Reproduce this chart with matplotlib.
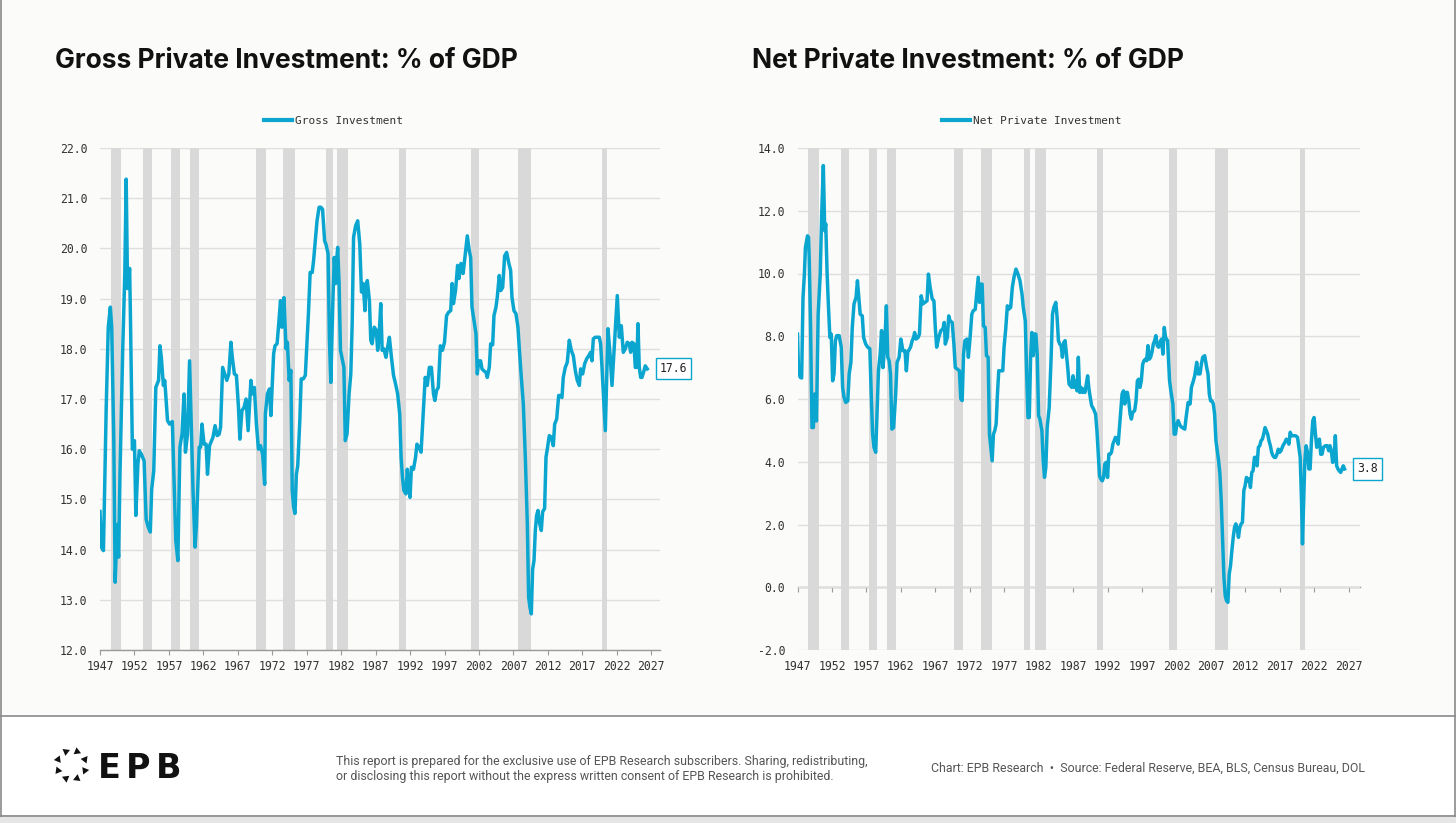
import matplotlib
matplotlib.use("Agg")
import matplotlib.pyplot as plt
from matplotlib.ticker import FixedLocator, FormatStrFormatter
from matplotlib.patches import Rectangle, RegularPolygon
import numpy as np

plt.rcParams['axes.unicode_minus'] = False

# ---------------- data ----------------
gross_t = [1947.0, 1947.2, 1947.5, 1947.9, 1948.2, 1948.5, 1948.7, 1949.0, 1949.2, 1949.5, 1949.7, 1949.9,
           1950.3, 1950.6, 1950.8, 1951.0, 1951.3, 1951.4, 1951.7, 1952.0, 1952.2, 1952.5, 1952.7, 1953.0,
           1953.4, 1953.7, 1954.0, 1954.3, 1954.5, 1954.8, 1955.1, 1955.5, 1955.7, 1955.9, 1956.2, 1956.4,
           1956.8, 1957.1, 1957.5, 1957.8, 1958.0, 1958.3, 1958.6, 1958.9, 1959.2, 1959.4, 1959.7, 1960.0,
           1960.3, 1960.5, 1960.8, 1961.0, 1961.4, 1961.6, 1961.8, 1962.1, 1962.4, 1962.6, 1962.9, 1963.4,
           1963.7, 1964.0, 1964.3, 1964.5, 1964.8, 1965.1, 1965.4, 1965.7, 1966.0, 1966.2, 1966.5, 1966.8,
           1967.1, 1967.3, 1967.6, 1967.9, 1968.2, 1968.5, 1968.9, 1969.1, 1969.4, 1969.7, 1970.0, 1970.3,
           1970.6, 1970.9, 1971.0, 1971.3, 1971.6, 1971.8, 1972.2, 1972.4, 1972.7, 1972.9, 1973.2, 1973.4,
           1973.7, 1974.0, 1974.2, 1974.45, 1974.7, 1974.9, 1975.1, 1975.3, 1975.5, 1975.7, 1976.0, 1976.2,
           1976.5, 1976.8, 1977.0, 1977.25, 1977.5, 1977.8, 1978.0, 1978.3, 1978.5, 1978.8, 1979.05, 1979.3,
           1979.6, 1979.8, 1980.1, 1980.3, 1980.5, 1980.8, 1981.0, 1981.2, 1981.35, 1981.5, 1981.7, 1981.9,
           1982.1, 1982.4, 1982.6, 1982.85, 1983.15, 1983.4, 1983.6, 1983.8, 1984.1, 1984.4, 1984.7, 1984.95,
           1985.2, 1985.45, 1985.6, 1985.8, 1986.1, 1986.3, 1986.5, 1986.8, 1987.1, 1987.3, 1987.5, 1987.75,
           1987.95, 1988.2, 1988.5, 1988.7, 1989.0, 1989.3, 1989.6, 1989.9, 1990.2, 1990.5, 1990.7, 1990.9,
           1991.1, 1991.4, 1991.6, 1991.8, 1992.0, 1992.2, 1992.5, 1992.8, 1993.0, 1993.3, 1993.6, 1993.9,
           1994.2, 1994.5, 1994.8, 1995.1, 1995.4, 1995.6, 1995.85, 1996.1, 1996.4, 1996.7, 1997.0, 1997.3,
           1997.6, 1997.9, 1998.1, 1998.3, 1998.6, 1998.9, 1999.1, 1999.4, 1999.7, 1999.88, 2000.31, 2000.6,
           2000.8, 2000.99, 2001.28, 2001.57, 2001.76, 2001.96, 2002.24, 2002.44, 2002.73, 2003.02, 2003.21, 2003.5,
           2003.7, 2003.99, 2004.18, 2004.47, 2004.66, 2004.95, 2005.15, 2005.44, 2005.73, 2006.02, 2006.31, 2006.6,
           2006.79, 2007.08, 2007.37, 2007.66, 2007.86, 2008.15, 2008.44, 2008.73, 2009.02, 2009.21, 2009.4, 2009.6,
           2009.79, 2009.99, 2010.18, 2010.37, 2010.57, 2010.76, 2011.05, 2011.24, 2011.53, 2011.73, 2011.92, 2012.21,
           2012.5, 2012.79, 2012.99, 2013.28, 2013.57, 2013.76, 2014.05, 2014.24, 2014.53, 2014.82, 2015.11, 2015.4,
           2015.7, 2015.99, 2016.27, 2016.57, 2016.76, 2017.05, 2017.34, 2017.63, 2017.92, 2018.21, 2018.4, 2018.6,
           2018.89, 2019.18, 2019.47, 2019.66, 2019.86, 2020.34, 2020.73, 2021.02, 2021.31, 2021.89, 2022.08, 2022.37,
           2022.66, 2022.95, 2023.24, 2023.53, 2023.82, 2024.02, 2024.21, 2024.5, 2024.69, 2024.89, 2025.08, 2025.27,
           2025.47, 2025.66, 2025.95, 2026.14, 2026.43]
gross_v = [14.76, 14.05, 13.98, 16.83, 18.43, 18.83, 18.43, 16.2, 13.35, 14.5, 13.85, 15.5,
           18.0, 19.5, 21.38, 19.2, 19.6, 18.8, 16.0, 16.17, 14.68, 15.7, 15.97, 15.9,
           15.77, 14.6, 14.45, 14.35, 15.2, 15.57, 17.23, 17.37, 18.06, 17.83, 17.27, 17.37,
           16.57, 16.5, 16.55, 15.1, 14.18, 13.78, 16.04, 16.3, 17.1, 15.94, 16.3, 17.76,
           16.17, 15.18, 14.05, 14.5, 16.04, 16.04, 16.5, 16.1, 16.1, 15.5, 16.07, 16.24,
           16.47, 16.27, 16.3, 16.44, 17.63, 17.5, 17.37, 17.5, 18.13, 17.83, 17.5, 17.47,
           16.83, 16.2, 16.77, 16.83, 17.0, 16.37, 17.37, 17.1, 17.23, 16.5, 16.0, 16.07,
           15.9, 15.3, 16.7, 17.1, 17.2, 16.67, 17.9, 18.06, 18.1, 18.43, 18.96, 18.43,
           19.02, 18.0, 18.13, 17.37, 17.57, 15.18, 14.85, 14.72, 15.5, 15.67, 16.57, 17.4,
           17.4, 17.47, 18.03, 18.7, 19.52, 19.52, 19.76, 20.22, 20.55, 20.82, 20.82, 20.78,
           20.15, 20.08, 19.9, 18.17, 17.33, 18.96, 19.82, 19.3, 19.76, 20.02, 19.3, 17.97,
           17.83, 17.63, 16.17, 16.3, 17.1, 17.5, 18.5, 20.22, 20.45, 20.55, 20.09, 19.13,
           19.3, 18.76, 19.22, 19.36, 18.96, 18.17, 18.1, 18.43, 18.37, 17.97, 18.23, 18.9,
           17.97, 18.0, 17.83, 18.0, 18.23, 17.83, 17.47, 17.3, 17.1, 16.7, 15.84, 15.44,
           15.18, 15.11, 15.6, 15.24, 15.04, 15.64, 15.6, 15.84, 16.1, 16.04, 15.94, 16.7,
           17.43, 17.27, 17.63, 17.63, 17.1, 16.97, 17.17, 17.23, 18.06, 17.97, 18.13, 18.66,
           18.73, 18.76, 19.3, 18.9, 19.16, 19.66, 19.4, 19.7, 19.5, 19.72, 20.25, 19.95,
           19.82, 18.83, 18.56, 18.3, 17.5, 17.76, 17.76, 17.6, 17.56, 17.53, 17.43, 17.63,
           18.1, 18.08, 18.66, 18.83, 19.03, 19.46, 19.16, 19.22, 19.85, 19.92, 19.72, 19.56,
           19.03, 18.76, 18.7, 18.43, 18.0, 17.43, 16.9, 15.84, 14.51, 13.05, 12.85, 12.72,
           13.61, 13.78, 14.38, 14.68, 14.78, 14.55, 14.38, 14.75, 14.82, 15.84, 16.0, 16.27,
           16.24, 16.07, 16.5, 16.6, 17.07, 17.07, 17.03, 17.43, 17.63, 17.73, 18.17, 17.97,
           17.86, 17.56, 17.37, 17.27, 17.6, 17.5, 17.7, 17.8, 17.86, 17.93, 17.76, 18.2,
           18.23, 18.23, 18.23, 18.1, 17.63, 16.37, 18.4, 17.9, 17.27, 18.6, 19.06, 18.23,
           18.46, 17.93, 18.0, 18.13, 18.1, 17.93, 18.13, 18.1, 17.63, 17.63, 18.5, 17.63,
           17.43, 17.43, 17.56, 17.66, 17.6]

net_t = [1947.0, 1947.15, 1947.4, 1947.6, 1947.8, 1948.0, 1948.15, 1948.45, 1948.6, 1948.7, 1948.9, 1949.1,
         1949.3, 1949.5, 1949.75, 1950.0, 1950.3, 1950.5, 1950.75, 1950.95, 1951.1, 1951.3, 1951.5, 1951.7,
         1951.9, 1952.1, 1952.3, 1952.5, 1952.7, 1953.05, 1953.35, 1953.55, 1953.75, 1954.0, 1954.3, 1954.5,
         1954.75, 1954.95, 1955.2, 1955.5, 1955.7, 1955.9, 1956.1, 1956.4, 1956.6, 1956.9, 1957.2, 1957.5,
         1957.7, 1957.9, 1958.1, 1958.35, 1958.55, 1958.75, 1959.0, 1959.2, 1959.4, 1959.65, 1959.9, 1960.1,
         1960.3, 1960.5, 1960.7, 1960.95, 1961.25, 1961.45, 1961.75, 1962.0, 1962.3, 1962.6, 1962.8, 1963.0,
         1963.4, 1963.65, 1963.85, 1964.0, 1964.2, 1964.5, 1964.7, 1964.95, 1965.2, 1965.5, 1965.8, 1966.0,
         1966.25, 1966.55, 1966.8, 1967.0, 1967.2, 1967.5, 1967.8, 1968.1, 1968.3, 1968.45, 1968.75, 1968.95,
         1969.15, 1969.45, 1969.7, 1969.9, 1970.2, 1970.5, 1970.7, 1970.9, 1971.1, 1971.3, 1971.6, 1971.8,
         1972.05, 1972.3, 1972.5, 1972.8, 1973.0, 1973.23, 1973.42, 1973.61, 1973.8, 1973.99, 1974.24, 1974.43,
         1974.67, 1974.86, 1975.06, 1975.25, 1975.44, 1975.63, 1975.83, 1976.02, 1976.21, 1976.5, 1976.79, 1976.98,
         1977.22, 1977.46, 1977.65, 1977.94, 1978.18, 1978.42, 1978.71, 1979.0, 1979.29, 1979.58, 1979.77, 1980.06,
         1980.25, 1980.45, 1980.64, 1980.83, 1981.02, 1981.22, 1981.41, 1981.6, 1981.79, 1981.99, 1982.18, 1982.47,
         1982.66, 1982.85, 1983.04, 1983.24, 1983.53, 1983.81, 1984.01, 1984.2, 1984.49, 1984.68, 1984.87, 1985.07,
         1985.26, 1985.45, 1985.64, 1985.84, 1986.03, 1986.22, 1986.41, 1986.61, 1986.8, 1986.99, 1987.18, 1987.38,
         1987.57, 1987.76, 1987.95, 1988.15, 1988.34, 1988.53, 1988.72, 1988.92, 1989.11, 1989.3, 1989.49, 1989.69,
         1989.97, 1990.26, 1990.46, 1990.65, 1990.84, 1991.03, 1991.23, 1991.42, 1991.61, 1991.8, 1992.0, 1992.19,
         1992.38, 1992.57, 1992.77, 1992.96, 1993.15, 1993.34, 1993.54, 1993.73, 1993.92, 1994.11, 1994.31, 1994.5,
         1994.69, 1994.88, 1995.08, 1995.27, 1995.46, 1995.65, 1995.94, 1996.13, 1996.33, 1996.52, 1996.71, 1996.9,
         1997.1, 1997.29, 1997.48, 1997.67, 1997.87, 1998.06, 1998.25, 1998.44, 1998.64, 1998.83, 1999.02, 1999.21,
         1999.41, 1999.6, 1999.84, 2000.03, 2000.23, 2000.42, 2000.71, 2001.0, 2001.19, 2001.48, 2001.67, 2001.86,
         2002.05, 2002.25, 2002.54, 2002.82, 2003.21, 2003.4, 2003.69, 2003.98, 2004.17, 2004.46, 2004.65, 2004.94,
         2005.13, 2005.42, 2005.62, 2005.81, 2006.1, 2006.39, 2006.58, 2006.77, 2006.96, 2007.16, 2007.35, 2007.54,
         2007.73, 2007.93, 2008.12, 2008.31, 2008.5, 2008.7, 2008.89, 2009.08, 2009.27, 2009.47, 2009.66, 2009.85,
         2010.04, 2010.24, 2010.43, 2010.62, 2010.81, 2011.0, 2011.2, 2011.39, 2011.58, 2011.78, 2011.97, 2012.16,
         2012.35, 2012.55, 2012.74, 2012.93, 2013.12, 2013.32, 2013.51, 2013.7, 2013.89, 2014.09, 2014.28, 2014.47,
         2014.66, 2014.86, 2015.05, 2015.24, 2015.43, 2015.63, 2015.82, 2016.01, 2016.2, 2016.4, 2016.59, 2016.78,
         2016.97, 2017.17, 2017.45, 2017.74, 2017.94, 2018.13, 2018.32, 2018.51, 2018.71, 2018.99, 2019.28, 2019.57,
         2019.77, 2019.96, 2020.15, 2020.29, 2020.44, 2020.63, 2020.82, 2021.02, 2021.21, 2021.4, 2021.59, 2021.79,
         2021.98, 2022.17, 2022.36, 2022.56, 2022.75, 2022.94, 2023.13, 2023.33, 2023.61, 2023.9, 2024.1, 2024.29,
         2024.48, 2024.67, 2024.87, 2025.06, 2025.25, 2025.44, 2025.63, 2025.83, 2026.02, 2026.21, 2026.4]
net_v = [8.07, 6.9, 6.69, 6.67, 9.24, 9.98, 10.83, 11.2, 11.15, 10.5, 8.28, 5.09,
         5.09, 6.16, 5.3, 8.7, 9.98, 11.8, 13.44, 11.36, 11.58, 9.98, 8.92, 7.96,
         8.07, 6.58, 6.8, 7.86, 8.02, 8.02, 7.65, 6.37, 6.05, 5.89, 5.94, 6.8,
         7.17, 8.28, 9.03, 9.24, 9.77, 9.24, 8.7, 8.65, 7.96, 7.75, 7.65, 7.6,
         6.16, 4.88, 4.46, 4.3, 5.63, 6.9, 7.43, 8.18, 7.0, 7.65, 8.97, 7.33,
         7.22, 6.8, 5.04, 5.09, 6.16, 7.17, 7.33, 7.91, 7.54, 7.54, 6.9, 7.49,
         7.65, 7.86, 7.96, 8.12, 7.91, 7.96, 8.07, 9.29, 9.03, 9.08, 9.13, 9.98,
         9.56, 9.19, 9.13, 8.28, 7.65, 7.96, 8.18, 8.23, 8.44, 7.75, 7.96, 8.65,
         8.49, 8.44, 7.75, 7.0, 6.95, 6.9, 6.0, 5.95, 7.43, 7.86, 7.91, 7.33,
         7.96, 8.7, 8.81, 8.86, 9.35, 9.88, 9.08, 9.66, 9.66, 8.33, 8.28, 7.38,
         7.33, 4.88, 4.46, 4.03, 4.88, 4.99, 5.2, 6.16, 6.9, 6.9, 6.9, 7.65,
         8.23, 8.97, 8.86, 8.92, 9.56, 9.88, 10.14, 9.98, 9.77, 9.35, 8.92, 8.49,
         6.9, 5.41, 5.41, 7.33, 8.12, 7.38, 8.07, 8.07, 7.43, 5.47, 5.36, 4.99,
         4.03, 3.5, 3.82, 5.09, 5.73, 7.33, 8.7, 8.92, 9.08, 8.6, 7.86, 7.75,
         7.7, 7.33, 7.8, 7.86, 7.43, 7.0, 6.48, 6.42, 6.37, 6.74, 6.37, 6.58,
         6.26, 7.33, 6.21, 6.37, 6.21, 6.32, 6.21, 6.48, 6.74, 6.32, 6.05, 5.79,
         5.68, 5.52, 4.99, 4.24, 3.55, 3.45, 3.39, 3.5, 3.93, 3.98, 3.5, 4.24,
         4.24, 4.3, 4.56, 4.67, 4.78, 4.72, 4.56, 5.09, 5.63, 6.16, 6.26, 5.84,
         6.21, 6.21, 5.94, 5.52, 5.36, 5.57, 5.63, 5.94, 6.58, 6.63, 6.37, 6.58,
         7.11, 7.22, 7.27, 7.22, 7.7, 7.27, 7.33, 7.49, 7.75, 7.86, 8.02, 7.7,
         7.65, 7.8, 7.91, 7.43, 8.28, 7.96, 7.86, 6.58, 6.26, 5.84, 4.88, 4.88,
         5.2, 5.31, 5.15, 5.09, 5.04, 5.41, 5.89, 5.84, 6.37, 6.58, 6.74, 7.17,
         6.8, 6.8, 7.11, 7.33, 7.38, 7.0, 6.8, 6.16, 5.94, 5.94, 5.84, 5.52,
         4.67, 4.35, 4.03, 3.61, 2.76, 1.49, 0.32, -0.27, -0.43, -0.48, 0.42, 0.69,
         1.16, 1.59, 1.91, 2.02, 1.86, 1.59, 1.91, 2.02, 2.07, 3.08, 3.24, 3.5,
         3.39, 3.45, 3.18, 3.66, 3.71, 4.14, 4.14, 3.87, 4.46, 4.51, 4.67, 4.72,
         4.88, 5.09, 4.99, 4.88, 4.67, 4.51, 4.3, 4.19, 4.14, 4.14, 4.24, 4.4,
         4.3, 4.35, 4.51, 4.62, 4.72, 4.67, 4.56, 4.94, 4.83, 4.83, 4.83, 4.78,
         4.46, 4.14, 2.76, 1.38, 2.55, 4.03, 4.51, 4.3, 3.77, 3.77, 4.67, 5.31,
         5.41, 4.88, 4.46, 4.67, 4.72, 4.24, 4.24, 4.46, 4.51, 4.51, 4.35, 4.51,
         4.35, 3.98, 4.03, 4.83, 3.87, 3.77, 3.71, 3.66, 3.77, 3.87, 3.77]

recession_start = [1948.55, 1953.3, 1957.35, 1960.05, 1969.65, 1973.6, 1979.85, 1981.4, 1990.4, 2000.85, 2007.65, 2019.9]
recession_end   = [1950.05, 1954.5, 1958.55, 1961.3, 1971.05, 1975.25, 1980.8, 1983.05, 1991.35, 2002.05, 2009.55, 2020.6]

year_ticks = list(range(1947, 2028, 5))
gross_yticks = [12, 13, 14, 15, 16, 17, 18, 19, 20, 21, 22]
net_yticks = [-2, 0, 2, 4, 6, 8, 10, 12, 14]

titles = ["Gross Private Investment: % of GDP", "Net Private Investment: % of GDP"]
legend_labels = ["Gross Investment", "Net Private Investment"]

# ---------------- styling ----------------
LINE = '#0ba6d0'
BAND = '#d9d9d9'
GRID = '#dedede'
AXIS = '#9a9a9a'
TXT = '#333333'
BG = '#fbfbf9'
MONO = 'DejaVu Sans Mono'

W, H = 1456, 823
fig = plt.figure(figsize=(W / 100, H / 100), dpi=100)
fig.patch.set_facecolor('white')

def fx(px):
    return px / W

def fy(py):
    return 1 - py / H

# page background panels
fig.patches.append(Rectangle((0, fy(716)), 1, 1 - fy(716), transform=fig.transFigure,
                             facecolor=BG, edgecolor='none', zorder=-10))
fig.patches.append(Rectangle((0, 0), 1, fy(815), transform=fig.transFigure,
                             facecolor='#e6e6e6', edgecolor='none', zorder=-10))
fig.add_artist(plt.Line2D([0, 1], [fy(716), fy(716)], transform=fig.transFigure, color='#8a8a8a', lw=1.2))
fig.add_artist(plt.Line2D([0, 1], [fy(815.5), fy(815.5)], transform=fig.transFigure, color='#8a8a8a', lw=1.2))
fig.add_artist(plt.Line2D([fx(1), fx(1)], [fy(815.5), 1], transform=fig.transFigure, color='#8a8a8a', lw=1.2))
fig.add_artist(plt.Line2D([fx(1455), fx(1455)], [fy(815.5), 1], transform=fig.transFigure, color='#8a8a8a', lw=1.2))

panels = [
    dict(left=100, right=660, t=gross_t, v=gross_v, yticks=gross_yticks, ylim=(12, 22),
         title_x=55, zero=None),
    dict(left=797.5, right=1360, t=net_t, v=net_v, yticks=net_yticks, ylim=(-2, 14),
         title_x=752, zero=0),
]

for i, p in enumerate(panels):
    ax = fig.add_axes([fx(p['left']), fy(650), fx(p['right'] - p['left']), fy(148) - fy(650)])
    ax.set_facecolor(BG)
    ax.set_xlim(1947, 1947 + (p['right'] - p['left']) / 6.89)
    ax.set_ylim(*p['ylim'])
    ax.set_axisbelow(True)

    for s, e in zip(recession_start, recession_end):
        ax.axvspan(s, e, color=BAND, lw=0, zorder=1)

    ax.plot(p['t'], p['v'], color=LINE, lw=2.5, solid_joinstyle='round', zorder=3,
            label=legend_labels[i])

    ax.yaxis.set_major_locator(FixedLocator(p['yticks']))
    ax.yaxis.set_major_formatter(FormatStrFormatter('%.1f'))
    ax.xaxis.set_major_locator(FixedLocator(year_ticks))
    ax.grid(axis='y', color=GRID, lw=1.0, zorder=0)
    ax.grid(axis='x', visible=False)
    for s in ['top', 'right', 'left']:
        ax.spines[s].set_visible(False)
    ax.tick_params(axis='y', length=0, pad=9, labelsize=8.3, labelcolor=TXT)
    for lab in ax.get_yticklabels():
        lab.set_fontfamily(MONO)

    if p['zero'] is None:
        ax.spines['bottom'].set_color(AXIS)
        ax.spines['bottom'].set_linewidth(1.0)
        ax.spines['bottom'].set_zorder(4)
        ax.tick_params(axis='x', length=3.5, width=0.8, color=AXIS, pad=3.5,
                       labelsize=8.3, labelcolor=TXT)
    else:
        ax.spines['bottom'].set_visible(False)
        ax.tick_params(axis='x', length=0, pad=7.5, labelsize=8.3, labelcolor=TXT)
        frac = (p['zero'] - p['ylim'][0]) / (p['ylim'][1] - p['ylim'][0])
        sec = ax.secondary_xaxis(frac)
        sec.xaxis.set_major_locator(FixedLocator(year_ticks))
        sec.tick_params(axis='x', length=3.5, width=0.8, color=AXIS, labelbottom=False)
        sec.spines['bottom'].set_color(AXIS)
        sec.spines['bottom'].set_linewidth(1.0)
        for s in ['top', 'left', 'right']:
            sec.spines[s].set_visible(False)
    for lab in ax.get_xticklabels():
        lab.set_fontfamily(MONO)

    # legend
    leg = ax.legend(loc='center', bbox_to_anchor=(0.417, 1.054), frameon=False,
                    handlelength=2.5, handletextpad=0.3, borderaxespad=0,
                    prop={'family': MONO, 'size': 8.0})
    for line in leg.get_lines():
        line.set_linewidth(3.0)
    for t in leg.get_texts():
        t.set_color(TXT)

    # end-value label
    ax.annotate(f"{p['v'][-1]:.1f}", xy=(p['t'][-1], p['v'][-1]), xytext=(9, 0),
                textcoords='offset points', ha='left', va='center',
                fontsize=8.3, family=MONO, color='#222222', annotation_clip=False,
                bbox=dict(boxstyle='square,pad=0.35', facecolor='white', edgecolor=LINE, lw=1.0),
                zorder=6)

    fig.text(fx(p['title_x']), fy(68), titles[i], family='Inter', weight='bold',
             fontsize=19.0, color='#111111', ha='left', va='baseline')

# ---------------- footer ----------------
# logo: ring of eight small triangles (drawn in inches via dpi_scale_trans)
cx, cy, r = 71.5, H - 765, 14.5
for k in range(8):
    ang = np.deg2rad(67.5 - 45 * k)
    px = cx + r * np.cos(ang)
    py = cy + r * np.sin(ang)
    tri = RegularPolygon((px / 100, py / 100), numVertices=3, radius=0.043,
                         orientation=ang - np.pi, transform=fig.dpi_scale_trans,
                         facecolor='#111111', edgecolor='none')
    fig.patches.append(tri)
for letter, lx in zip("EPB", [98, 126, 156]):
    fig.text(fx(lx), fy(778), letter, family='DejaVu Sans', weight='bold', fontsize=24,
             color='#111111', ha='left', va='baseline')

FOOT = dict(family='Roboto', fontsize=8.95, color='#555555', va='baseline')
fig.text(fx(336), fy(765), "This report is prepared for the exclusive use of EPB Research subscribers. Sharing, redistributing,",
         ha='left', **FOOT)
fig.text(fx(336), fy(780), "or disclosing this report without the express written consent of EPB Research is prohibited.",
         ha='left', **FOOT)
fig.text(fx(1365), fy(772), "Chart: EPB Research  \u2022  Source: Federal Reserve, BEA, BLS, Census Bureau, DOL",
         ha='right', **FOOT)

fig.savefig('out.png', dpi=100, facecolor=fig.get_facecolor())
